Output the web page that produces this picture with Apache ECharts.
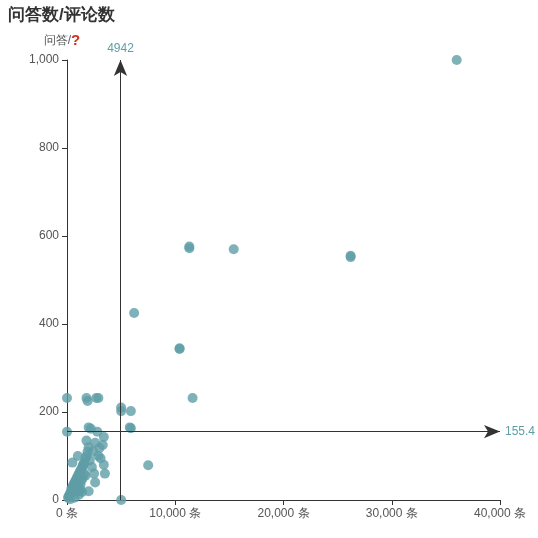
<!DOCTYPE html>
<html><head><meta charset="utf-8">
<script src="https://cdn.jsdelivr.net/npm/echarts@6/dist/echarts.min.js"></script>
<style>html,body{margin:0;padding:0}#c{width:538px;height:538px}</style>
</head><body><div id="c"></div>
<script>
const comments = [36000,26200,26200,15400,11300,11300,10400,10400,11600,6200,7500,5000,5000,5000,5900,5800,5900,0,0,1800,1900,2700,2900,2000,2200,2800,3400,3300,1800,3000,2900,3100,3400,3500,2000,1000,500,1500,
 200,300,400,500,600,700,800,900,1000,1100,1200,1300,1400,1500,1600,1700,1800,1900,2000,2100,2300,2500,2600,100,150,250,350,450,550,650,750,850,950,1050,1150,1250,1350,1450,1600,1700,2400,2600,900,1200,300,700,1100,1400];
const answers = [1000,552,555,570,576,572,343,345,232,425,79,210,202,0,202,165,163,155,232,232,225,232,232,165,162,155,143,125,135,118,100,95,80,60,20,100,85,80,
 10,15,25,30,35,40,45,50,55,60,65,70,75,80,85,95,100,110,120,90,75,60,40,5,8,12,18,22,28,32,38,42,48,30,20,35,45,50,60,55,110,130,20,25,2,5,12,18];
const avgX = 4942, avgY = 155.4;
const pts = comments.map((c,i)=>[c,answers[i]]);
const chart = echarts.init(document.getElementById('c'));
chart.setOption({
  animation:false,
  title:{text:'问答数/评论数',left:3,top:2,textStyle:{fontSize:17,fontWeight:'bold',color:'#333'}},
  grid:{left:67,right:38,top:60,bottom:38},
  xAxis:{type:'value',min:0,max:40000,interval:10000,splitLine:{show:false},
    axisLine:{lineStyle:{color:'#333'}},axisTick:{show:true},
    axisLabel:{formatter:v=>v.toLocaleString('en-US')+' 条',color:'#555'}},
  yAxis:{type:'value',min:0,max:1000,interval:200,splitLine:{show:false},
    name:'{a|问答/}{q|?}',nameGap:12,
    nameTextStyle:{rich:{a:{color:'#555',fontSize:12},q:{color:'#d0301a',fontSize:15,fontWeight:'bold'}},padding:[0,0,0,-10]},
    axisLine:{show:true,lineStyle:{color:'#333'}},axisTick:{show:true},
    axisLabel:{color:'#555'}},
  series:[{type:'scatter',data:pts,symbolSize:10,
    itemStyle:{color:'#5f9ea6',opacity:0.8},
    markLine:{symbol:['none','arrow'],symbolSize:[10,16],
      lineStyle:{color:'#333',type:'solid',width:1},
      label:{color:'#5f9ea6',fontSize:12},
      data:[{xAxis:avgX},{yAxis:avgY}]}}]
});
</script></body></html>
